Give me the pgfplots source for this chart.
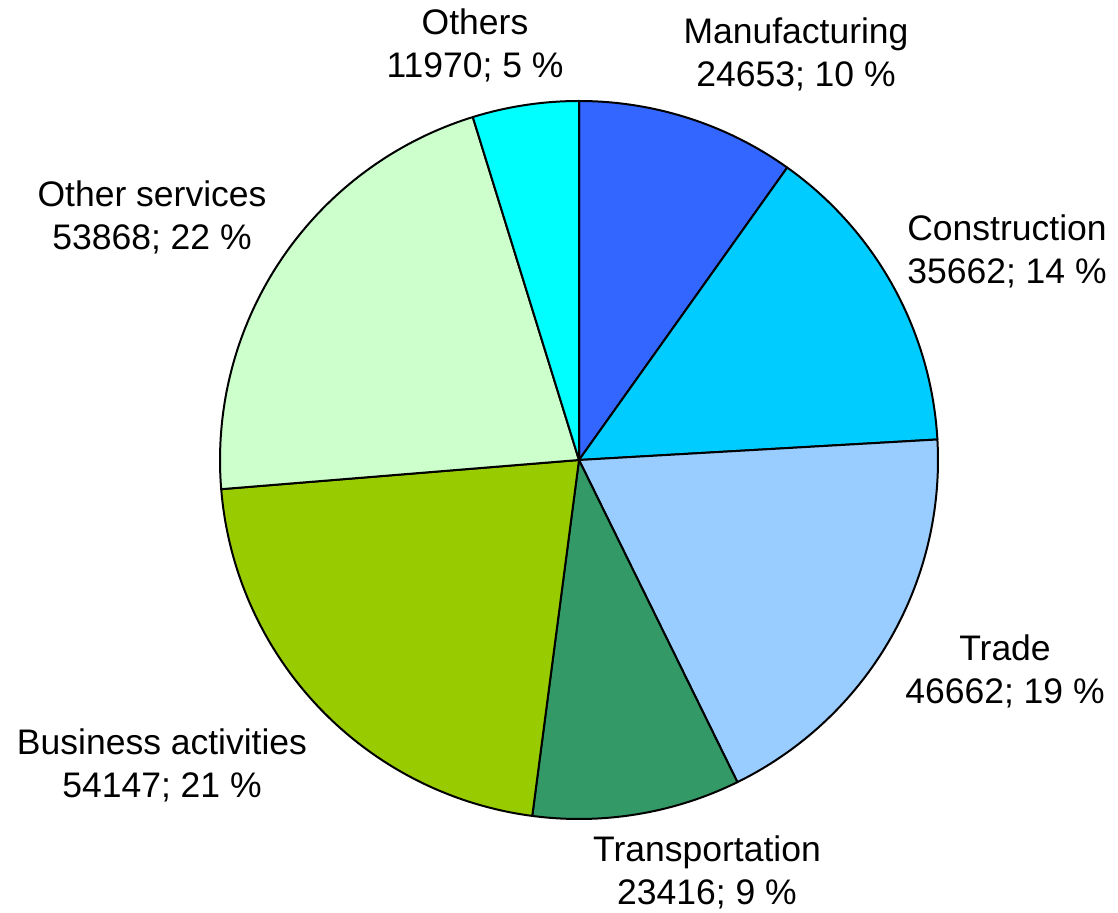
\documentclass[border=0pt]{standalone}
\usepackage{pgfplots}
\pgfplotsset{compat=1.18}
\usepackage{fontspec}
\setmainfont{Liberation Sans}
\definecolor{cManu}{HTML}{3366FF}
\definecolor{cCons}{HTML}{00CCFF}
\definecolor{cTrade}{HTML}{99CCFF}
\definecolor{cTrans}{HTML}{339966}
\definecolor{cBus}{HTML}{99CC00}
\definecolor{cOthS}{HTML}{CCFFCC}
\definecolor{cOth}{HTML}{00FFFF}
% data
\def\vManu{24653}
\def\vCons{35662}
\def\vTrade{46662}
\def\vTrans{23416}
\def\vBus{54147}
\def\vOthS{53868}
\def\vOth{11970}
\edef\total{\fpeval{\vManu+\vCons+\vTrade+\vTrans+\vBus+\vOthS+\vOth}}
\edef\aA{90}
\edef\aB{\fpeval{\aA-360*\vManu/\total}}
\edef\aC{\fpeval{\aB-360*\vCons/\total}}
\edef\aD{\fpeval{\aC-360*\vTrade/\total}}
\edef\aE{\fpeval{\aD-360*\vTrans/\total}}
\edef\aF{\fpeval{\aE-360*\vBus/\total}}
\edef\aG{\fpeval{\aF-360*\vOthS/\total}}
\edef\aH{\fpeval{\aG-360*\vOth/\total}}
\begin{document}
\begin{tikzpicture}
\begin{axis}[scale only axis, width=559bp, height=456.5bp,
  xmin=0, xmax=1118, ymin=0, ymax=913, hide axis, clip=false]
\path (rel axis cs:0,0) (rel axis cs:1,1);
\pgfplotsset{every axis plot/.append style={draw=black, line width=1pt, line join=round, samples=90, variable=\t}}
\addplot[fill=cManu, domain=\aB:\aA] ({579+359*cos(\t)},{453+359*sin(\t)}) -- (axis cs:579,453) -- cycle;
\addplot[fill=cCons, domain=\aC:\aB] ({579+359*cos(\t)},{453+359*sin(\t)}) -- (axis cs:579,453) -- cycle;
\addplot[fill=cTrade, domain=\aD:\aC] ({579+359*cos(\t)},{453+359*sin(\t)}) -- (axis cs:579,453) -- cycle;
\addplot[fill=cTrans, domain=\aE:\aD] ({579+359*cos(\t)},{453+359*sin(\t)}) -- (axis cs:579,453) -- cycle;
\addplot[fill=cBus, domain=\aF:\aE] ({579+359*cos(\t)},{453+359*sin(\t)}) -- (axis cs:579,453) -- cycle;
\addplot[fill=cOthS, domain=\aG:\aF] ({579+359*cos(\t)},{453+359*sin(\t)}) -- (axis cs:579,453) -- cycle;
\addplot[fill=cOth, domain=\aH:\aG] ({579+359*cos(\t)},{453+359*sin(\t)}) -- (axis cs:579,453) -- cycle;
\tikzset{lab/.style={align=center, inner sep=0pt, font=\fontsize{17.75bp}{21.5bp}\selectfont}}
\node[lab] at (axis cs:475,868) {Others\\11970; 5 \%};
\node[lab] at (axis cs:796,859) {Manufacturing\\24653; 10 \%};
\node[lab] at (axis cs:1007,662) {Construction\\35662; 14 \%};
\node[lab] at (axis cs:1005,242) {Trade\\46662; 19 \%};
\node[lab] at (axis cs:707,41) {Transportation\\23416; 9 \%};
\node[lab] at (axis cs:162,148) {Business activities\\54147; 21 \%};
\node[lab] at (axis cs:152,696) {Other services\\53868; 22 \%};
\end{axis}
\end{tikzpicture}
\end{document}
